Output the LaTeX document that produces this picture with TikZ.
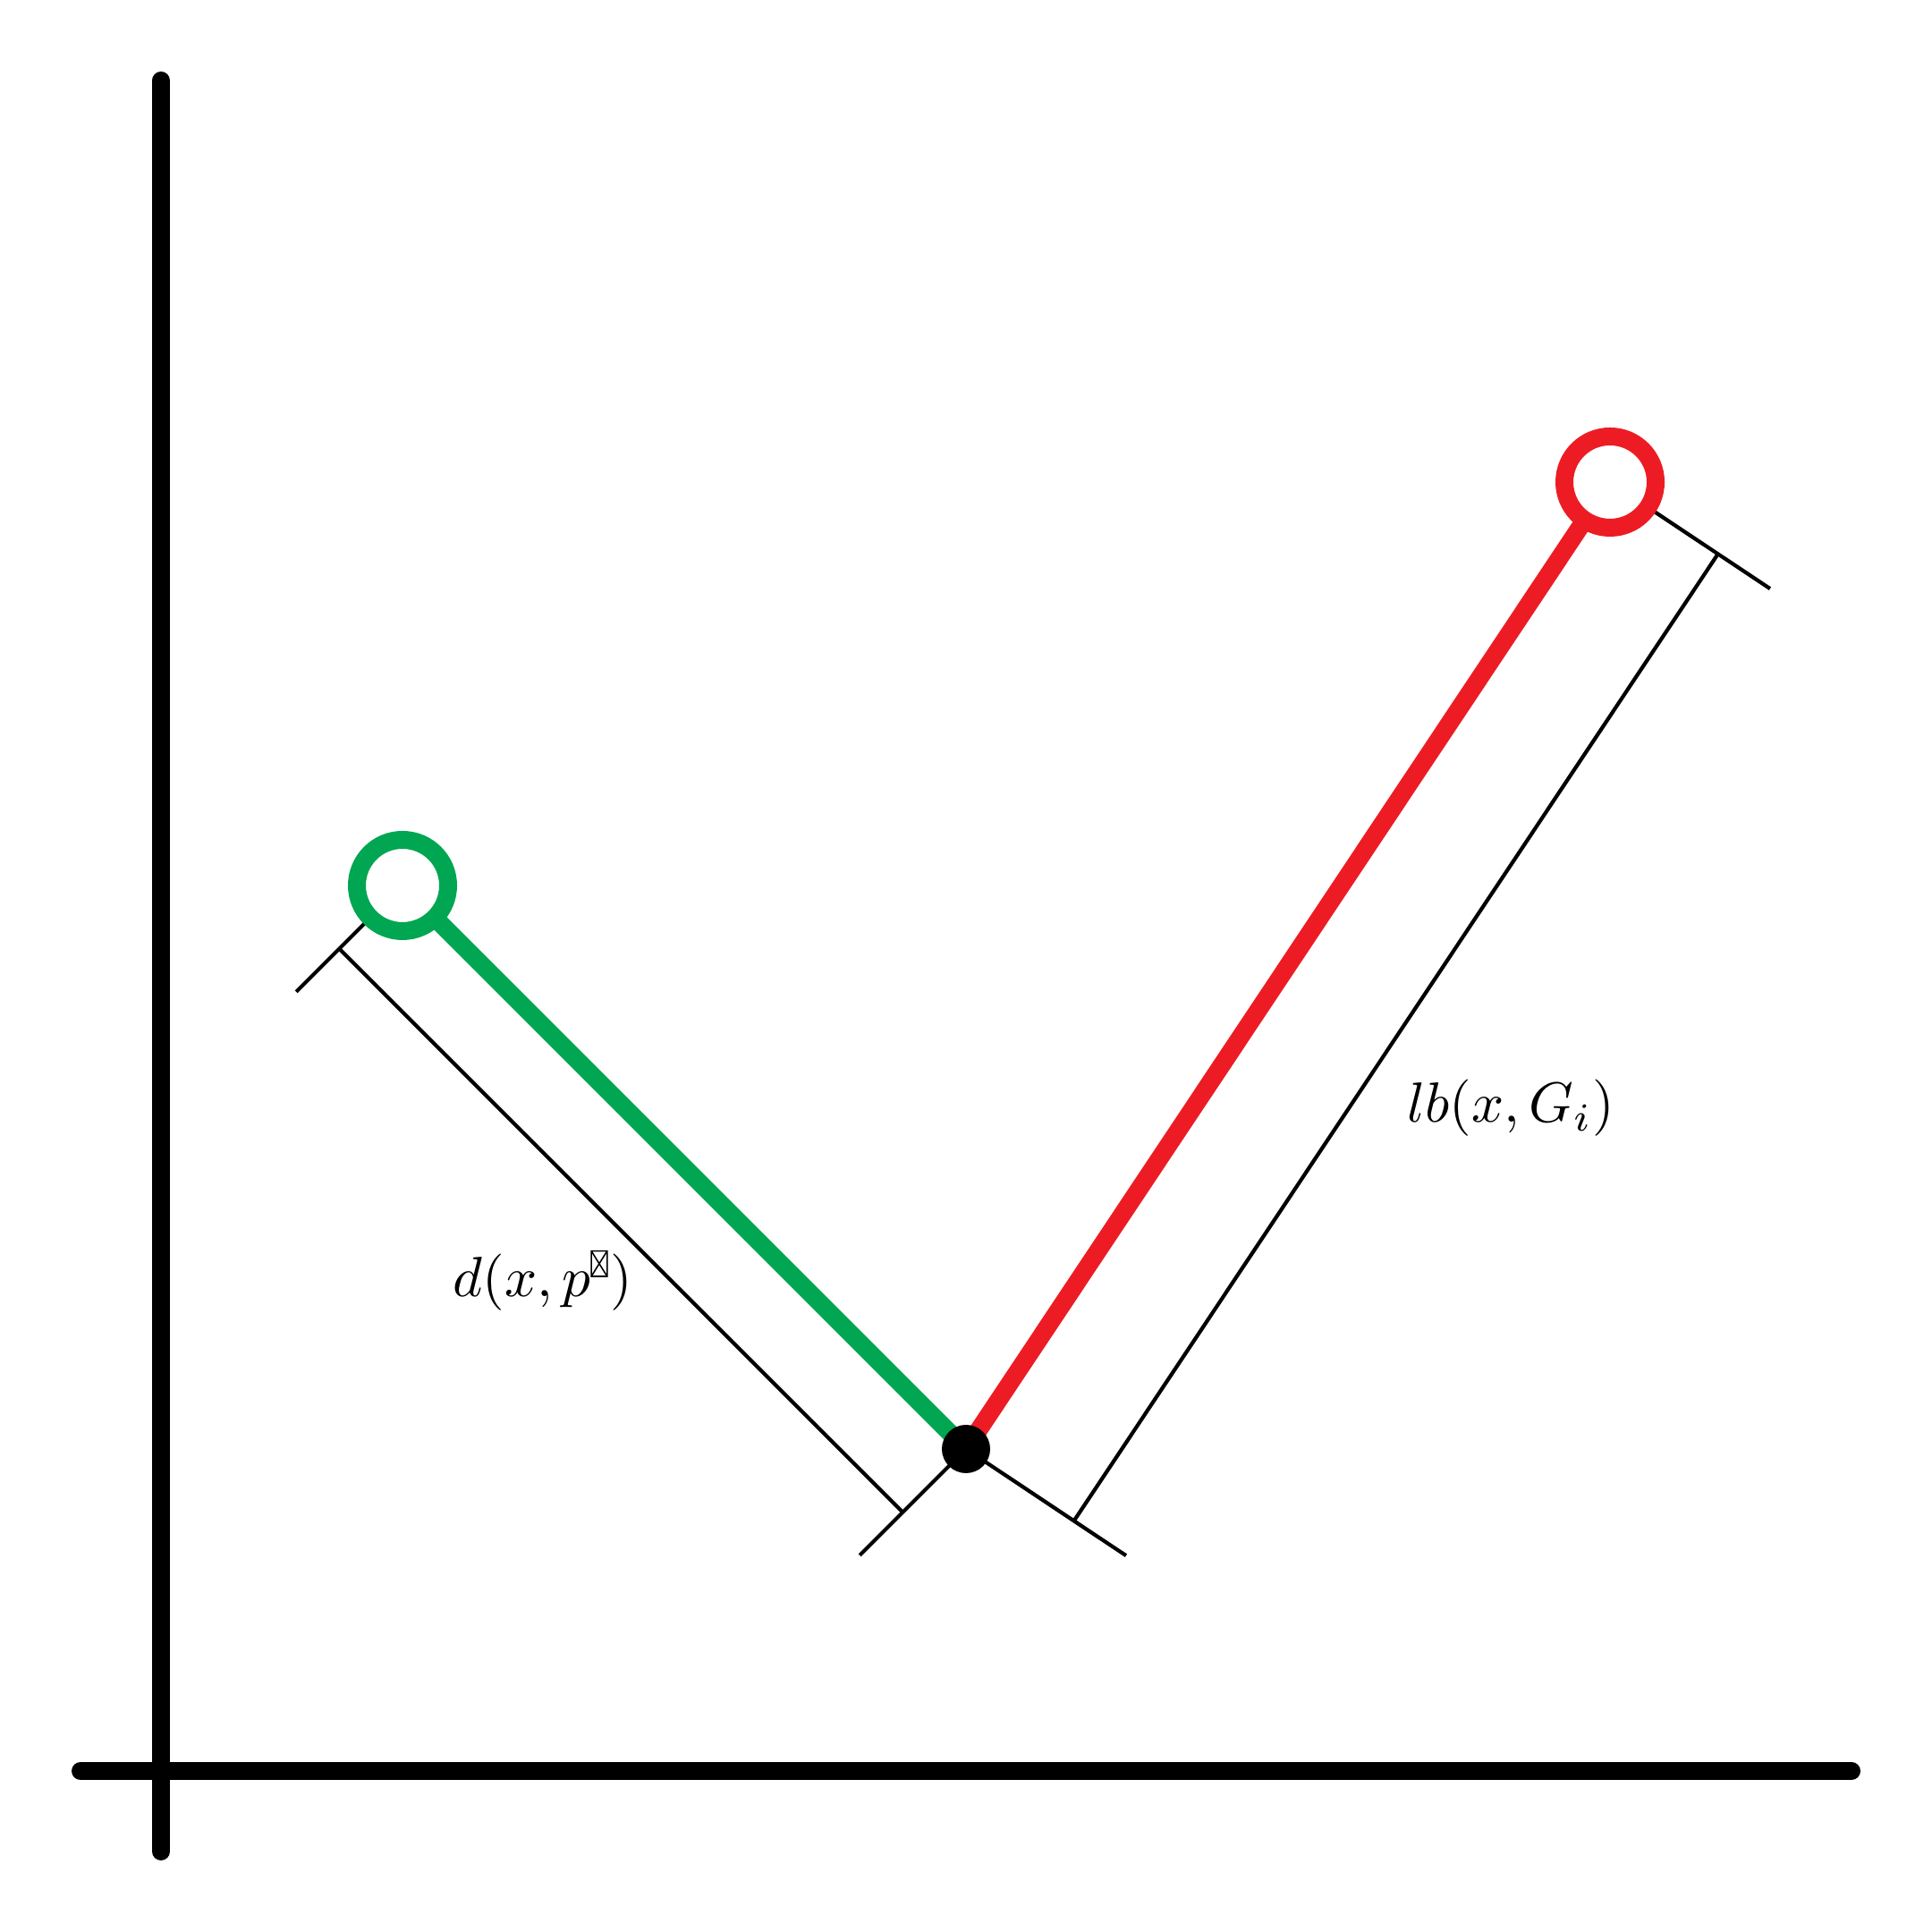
\documentclass[tikz,border=0pt]{standalone}
\usetikzlibrary{calc,backgrounds}

\definecolor{ptgreen}{RGB}{0,166,81}
\definecolor{ptred}{RGB}{237,28,36}

% missing-glyph box as printed in the label
\newcommand{\tofubox}{\tikz[baseline=0pt, line width=0.25pt]
  \draw (0,0) rectangle (2.8pt,4.5pt) (0,0) -- (2.8pt,4.5pt) (0,4.5pt) -- (2.8pt,0);}

\begin{document}
\begin{tikzpicture}[
		every node/.style={font=\normalsize},
		lbl/.style={anchor=base, scale=1.8, transform shape},
		axis/.style={line width=0.2cm, line cap=round},
		dist/.style={line width=0.2cm},
		ring/.style={circle, draw, line width=0.2cm, fill=white, minimum size=1.02cm, inner sep=0pt},
		dot/.style={circle, fill=black, minimum size=0.54cm, inner sep=0pt},
		dim/.style={line width=1.2pt}
		]
		\useasboundingbox (0,0) rectangle (21.6,21.6);
		
		% Draw Axes
		\coordinate (ytop) at (1.8, 20.7);
		\coordinate (ybot) at (1.8, 0.9);
		\coordinate (xleft) at (0.9, 1.8);
		\coordinate (xright) at (20.7, 1.8);
		\draw[axis] (ybot) -- (ytop);
		\draw[axis] (xleft) -- (xright);
		
		% Draw Points
		\node[ring, draw=ptgreen] (p) at (4.5, 11.7) {};
		\node[dot] (x) at (10.8, 5.4) {};
		\node[ring, draw=ptred] (g) at (18.0, 16.21) {};
		
		% Dimension Marks
		\coordinate (pa) at ($(p)!1.68cm!-90:(x)$);
		\coordinate (pb) at ($(x)!1.68cm!90:(p)$);
		\coordinate (pd1) at ($(p)!1.0cm!-90:(x)$);
		\coordinate (pd2) at ($(x)!1.0cm!90:(p)$);
		\coordinate (ga) at ($(x)!2.15cm!-90:(g)$);
		\coordinate (gb) at ($(g)!2.15cm!90:(x)$);
		\coordinate (gd1) at ($(x)!1.45cm!-90:(g)$);
		\coordinate (gd2) at ($(g)!1.45cm!90:(x)$);
		
		\begin{scope}[on background layer]
			\draw[dist, ptgreen] (p.center) -- (x.center);
			\draw[dist, ptred] (g.center) -- (x.center);
			\draw[dim] (p.center) -- (pa);
			\draw[dim] (x.center) -- (pb);
			\draw[dim] (pd1) -- (pd2);
			\draw[dim] (x.center) -- (ga);
			\draw[dim] (g.center) -- (gb);
			\draw[dim] (gd1) -- (gd2);
		\end{scope}
		
		% Add Labels
		\node[lbl] (dlabel) at (6.07, 7.10) {$d(x,p^{\tofubox})$};
		\node[lbl] (lblabel) at (16.89, 9.05) {$lb(x,G_i)$};
		
	\end{tikzpicture}
\end{document}
